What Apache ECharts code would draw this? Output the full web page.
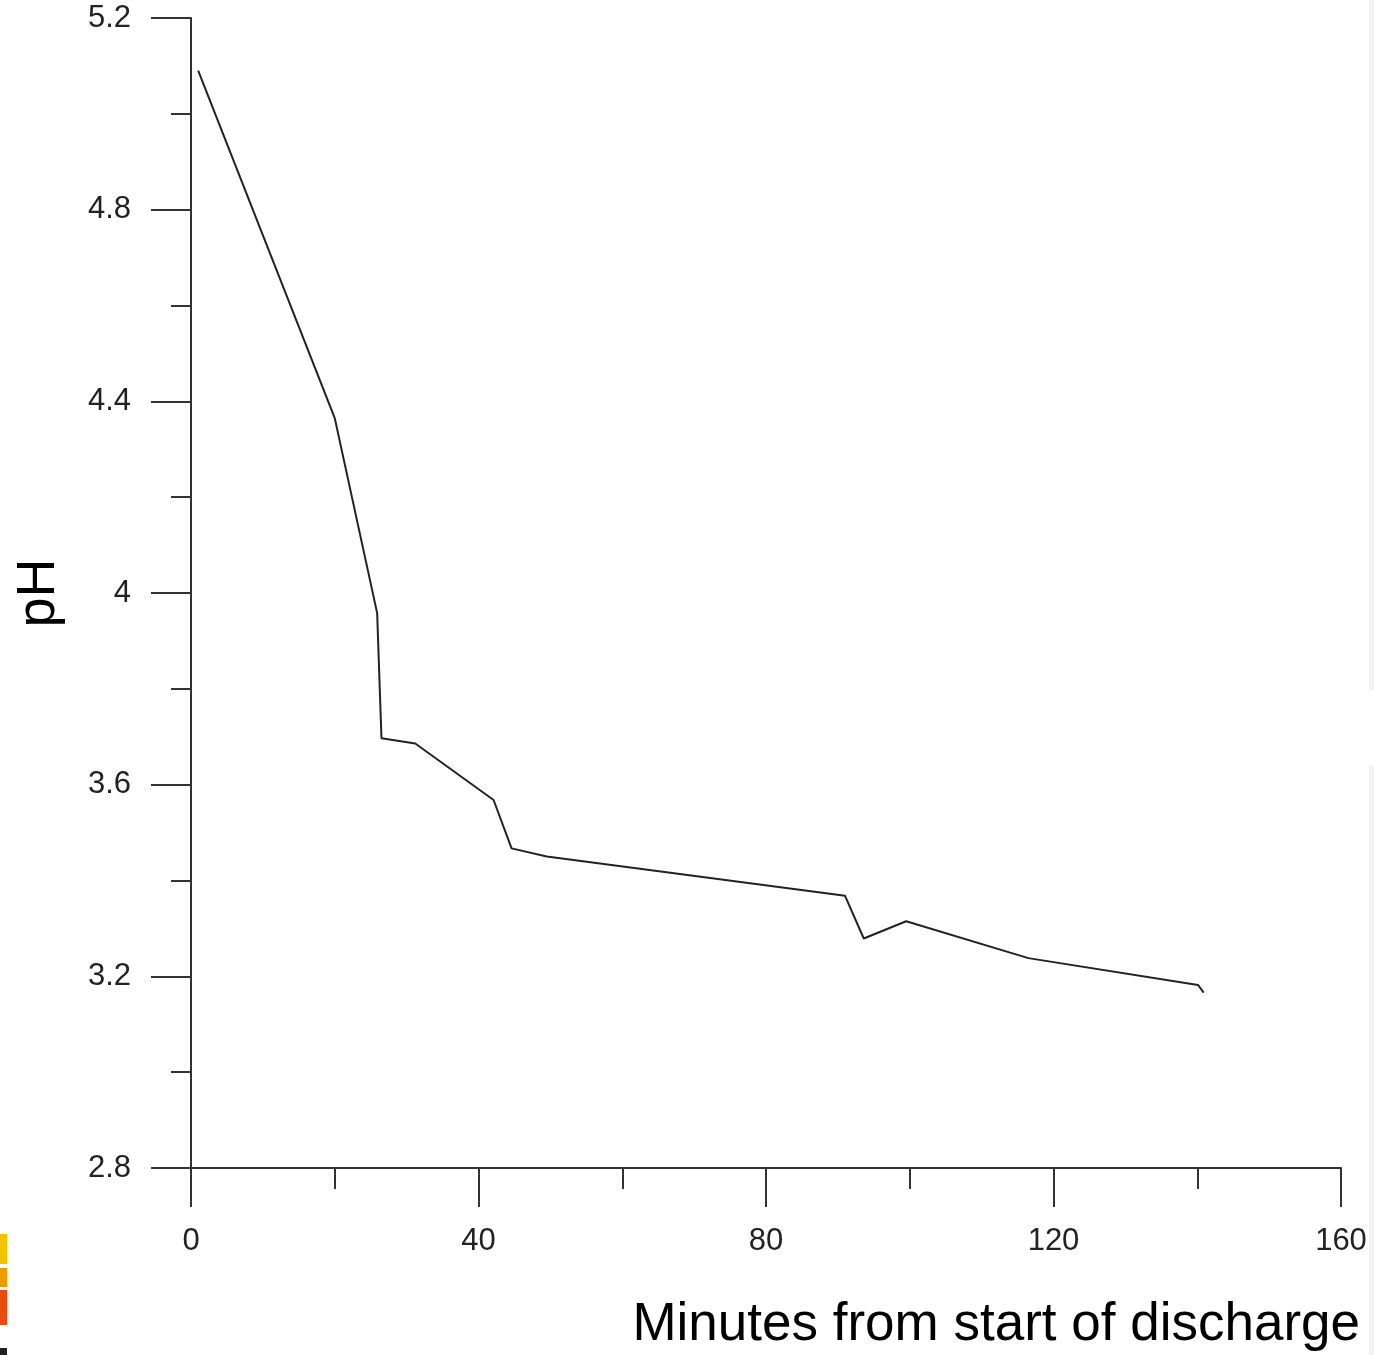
<!DOCTYPE html>
<html>
<head>
<meta charset="utf-8">
<script src="https://cdn.jsdelivr.net/npm/echarts@6/dist/echarts.min.js"></script>
<style>
  html, body { margin: 0; padding: 0; background: #fff; }
  #chart { width: 1374px; height: 1355px; }
</style>
</head>
<body>
<div id="chart"></div>
<script>
// minutes since discharge started vs measured pH
const minutes = [1, 20, 25.9, 26.5, 31.2, 42.1, 44.6, 49.5, 91.0, 93.6, 99.5, 116.5, 140.1, 140.9]
const phValues = [5.09, 4.365, 3.958, 3.697, 3.686, 3.568, 3.467, 3.45, 3.368, 3.279, 3.315, 3.238, 3.182, 3.166]

const xTitle = 'Minutes from start of discharge'
const yTitle = 'pH'

const chart = echarts.init(document.getElementById('chart'))
const axisColor = '#333'
const labelFont = { fontFamily: 'Liberation Sans, Arial', fontSize: 31, color: '#222' }

chart.setOption({
  animation: false,
  grid: { left: 191, top: 18, width: 1150, height: 1150, containLabel: false, outerBoundsMode: 'none' },
  xAxis: {
    type: 'value',
    min: 0,
    max: 160,
    interval: 40,
    axisLine: { onZero: false, lineStyle: { color: axisColor, width: 2 } },
    axisTick: { length: 39, lineStyle: { color: axisColor, width: 2 } },
    minorTick: { show: true, splitNumber: 2, length: 21, lineStyle: { color: axisColor, width: 2 } },
    splitLine: { show: false },
    axisLabel: Object.assign({ margin: 58 }, labelFont)
  },
  yAxis: {
    type: 'value',
    min: 2.8,
    max: 5.2,
    interval: 0.4,
    name: yTitle,
    nameLocation: 'middle',
    nameRotate: 90,
    nameGap: 125,
    nameTextStyle: { fontFamily: 'Liberation Sans, Arial', fontSize: 54, color: '#000' },
    axisLine: { show: true, onZero: false, lineStyle: { color: axisColor, width: 2 } },
    axisTick: { show: true, length: 40, lineStyle: { color: axisColor, width: 2 } },
    minorTick: { show: true, splitNumber: 2, length: 20, lineStyle: { color: axisColor, width: 2 } },
    splitLine: { show: false },
    axisLabel: Object.assign({ margin: 60 }, labelFont)
  },
  graphic: [
    {
      type: 'text',
      right: 14,
      top: 1299,
      style: { text: xTitle, font: '53px "Liberation Sans", Arial', fill: '#000' }
    },
    // cropped colour strip at the left edge of the original image
    { type: 'rect', shape: { x: 0, y: 1234, width: 7, height: 30 }, style: { fill: '#f2c400' } },
    { type: 'rect', shape: { x: 0, y: 1268, width: 7, height: 19 }, style: { fill: '#ee9a00' } },
    { type: 'rect', shape: { x: 0, y: 1290, width: 7, height: 35 }, style: { fill: '#e84a10' } },
    { type: 'rect', shape: { x: 0, y: 1348, width: 7, height: 7 }, style: { fill: '#222' } },
    { type: 'rect', shape: { x: 1369, y: 0, width: 5, height: 690 }, style: { fill: '#f3f3f3' } },
    { type: 'rect', shape: { x: 1369, y: 765, width: 5, height: 590 }, style: { fill: '#f3f3f3' } }
  ],
  series: [
    {
      type: 'line',
      data: minutes.map((m, i) => [m, phValues[i]]),
      showSymbol: false,
      lineStyle: { color: '#222', width: 2 }
    }
  ]
})
</script>
</body>
</html>
